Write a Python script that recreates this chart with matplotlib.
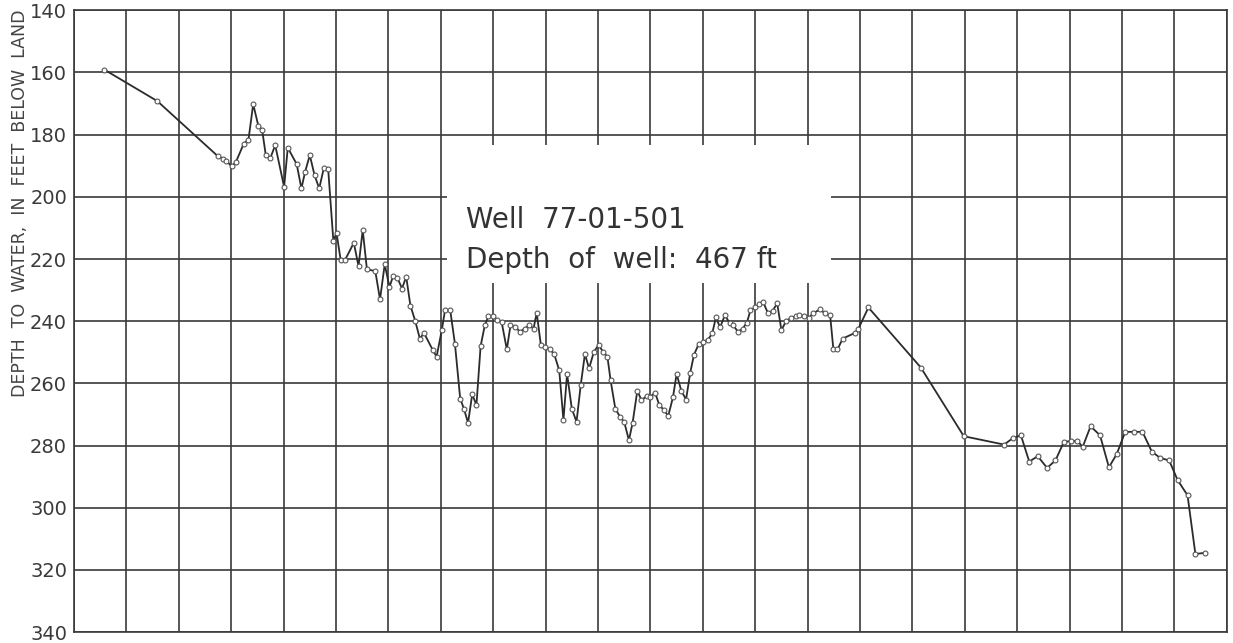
import matplotlib.pyplot as plt
from matplotlib.patches import Rectangle

# lectura aproximada del hidrograma (x = columnas de la malla, y = profundidad en pies)
x_col = [0.58, 1.59, 2.75, 2.84, 2.91, 3.01, 3.09, 3.24, 3.33, 3.42, 3.52, 3.59,
         3.66, 3.75, 3.84, 4.01, 4.08, 4.25, 4.34, 4.41, 4.50, 4.59, 4.68, 4.77,
         4.85, 4.95, 5.01, 5.09, 5.17, 5.34, 5.43, 5.51, 5.59, 5.75, 5.84, 5.93,
         6.02, 6.09, 6.17, 6.26, 6.34, 6.42, 6.51, 6.60, 6.68, 6.85, 6.92, 7.02,
         7.08, 7.18, 7.27, 7.37, 7.44, 7.52, 7.60, 7.68, 7.76, 7.84, 7.91, 7.99,
         8.07, 8.16, 8.26, 8.33, 8.42, 8.51, 8.60, 8.69, 8.77, 8.83, 8.91, 8.99,
         9.08, 9.16, 9.26, 9.34, 9.41, 9.50, 9.59, 9.67, 9.75, 9.83, 9.92, 10.01,
         10.10, 10.18, 10.24, 10.33, 10.42, 10.50, 10.59, 10.66, 10.75, 10.83, 10.93, 11.00,
         11.09, 11.17, 11.26, 11.34, 11.43, 11.50, 11.59, 11.68, 11.76, 11.83, 11.92, 12.01,
         12.10, 12.18, 12.25, 12.33, 12.42, 12.51, 12.58, 12.67, 12.76, 12.84, 12.91, 13.00,
         13.08, 13.15, 13.24, 13.33, 13.42, 13.50, 13.59, 13.68, 13.77, 13.84, 13.93, 14.02,
         14.10, 14.24, 14.33, 14.43, 14.49, 14.57, 14.67, 14.90, 14.97, 15.16, 16.16, 16.98,
         17.75, 17.91, 18.07, 18.23, 18.39, 18.57, 18.73, 18.89, 19.02, 19.15, 19.25, 19.40,
         19.58, 19.75, 19.90, 20.06, 20.23, 20.39, 20.57, 20.73, 20.90, 21.06, 21.25, 21.40,
         21.58]
profundidad = [159.1, 169.2, 187.0, 187.7, 188.5, 190.2, 188.8, 182.9, 181.6, 170.2, 177.3, 178.4,
               186.6, 187.4, 183.4, 196.8, 184.2, 189.5, 197.3, 192.0, 186.6, 193.0, 197.3, 190.6,
               190.9, 214.2, 211.6, 220.4, 220.4, 214.8, 222.3, 210.7, 223.3, 223.9, 233.0, 221.7,
               229.0, 225.5, 226.0, 229.5, 225.7, 235.0, 239.8, 245.6, 243.8, 249.4, 251.4, 242.8,
               236.5, 236.5, 247.3, 264.9, 268.1, 272.7, 263.5, 267.0, 248.0, 241.3, 238.4, 238.4,
               239.7, 240.2, 249.1, 241.3, 241.8, 243.4, 242.4, 241.3, 242.4, 237.3, 247.7, 248.3,
               249.1, 250.4, 255.8, 271.8, 257.0, 268.1, 272.4, 260.6, 250.6, 255.2, 249.9, 247.7,
               249.9, 251.5, 259.0, 268.1, 270.8, 272.4, 278.3, 272.7, 262.4, 265.4, 264.1, 264.3,
               263.0, 267.0, 268.6, 270.5, 264.5, 257.0, 262.4, 265.2, 256.6, 250.9, 247.4, 246.6,
               245.9, 243.9, 238.8, 242.0, 238.1, 240.5, 241.3, 243.4, 242.4, 240.5, 236.5, 235.6,
               234.5, 233.8, 237.3, 236.7, 234.3, 242.9, 239.9, 239.1, 238.4, 238.1, 238.4, 239.1,
               237.5, 236.2, 237.5, 238.1, 248.8, 249.1, 245.6, 243.8, 242.4, 235.6, 254.9, 277.0,
               279.7, 277.7, 276.7, 285.2, 283.4, 287.2, 284.8, 278.8, 278.6, 278.6, 280.4, 273.8,
               276.7, 287.0, 282.7, 275.6, 275.6, 275.6, 282.0, 284.0, 284.8, 291.1, 296.0, 314.9,
               314.5]

y_ticks = [140, 160, 180, 200, 220, 240, 260, 280, 300, 320, 340]
n_columnas = 22

gris = '#3a3a3a'
fig = plt.figure(figsize=(12.33, 6.43), dpi=100)
ax = fig.add_axes([0.060, 0.017, 0.935, 0.967])

ax.set_xlim(0, n_columnas)
ax.set_ylim(340, 140)
ax.set_xticks(range(n_columnas + 1))
ax.set_yticks(y_ticks)
ax.set_xticklabels([])
ax.tick_params(axis='both', length=0)
ax.tick_params(axis='y', pad=5, labelsize=14, labelcolor=gris)
ax.grid(True, color=gris, linewidth=1.2)
ax.set_axisbelow(True)
for s in ax.spines.values():
    s.set_color(gris)
    s.set_linewidth(1.2)

# recuadro blanco detrás del texto
ax.add_patch(Rectangle((0.3235, 0.561), 0.333, 0.222, transform=ax.transAxes,
                       facecolor='white', edgecolor='none', zorder=1.5))

ax.plot(x_col, profundidad, '-', color='#2b2b2b', linewidth=1.3, zorder=3,
        marker='o', markersize=3.5, markerfacecolor='white',
        markeredgecolor='#555555', markeredgewidth=0.8)

ax.text(0.340, 0.650, 'Well  77-01-501', transform=ax.transAxes,
        fontsize=20, color='#333333', va='baseline', zorder=4)
ax.text(0.340, 0.585, 'Depth  of  well:  467 ft', transform=ax.transAxes,
        fontsize=20, color='#333333', va='baseline', zorder=4)

fig.text(0.009, 0.383, 'DEPTH  TO  WATER,  IN  FEET  BELOW  LAND  SURFACE',
         rotation=90, va='bottom', ha='left', fontsize=12.5, color='#444444')

plt.savefig('out.png', dpi=100)
